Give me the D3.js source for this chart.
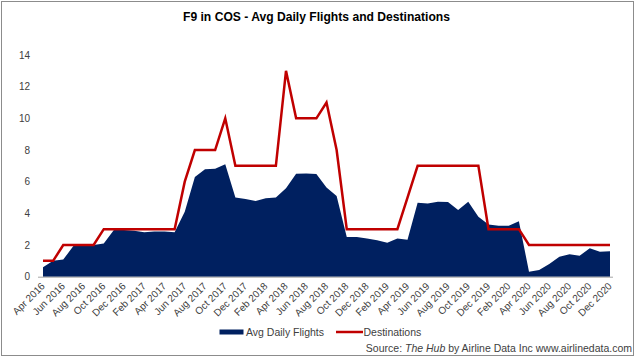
<!DOCTYPE html>
<html><head><meta charset="utf-8">
<script src="https://cdn.jsdelivr.net/npm/d3@7"></script>
<style>
html,body{margin:0;padding:0;background:#fff;}
svg{display:block;font-family:"Liberation Sans",Arial,sans-serif;}
</style></head>
<body><svg id="c" width="639" height="358"></svg>
<script>
const months = ["Apr 2016","May 2016","Jun 2016","Jul 2016","Aug 2016","Sep 2016","Oct 2016","Nov 2016","Dec 2016",
"Jan 2017","Feb 2017","Mar 2017","Apr 2017","May 2017","Jun 2017","Jul 2017","Aug 2017","Sep 2017","Oct 2017","Nov 2017","Dec 2017",
"Jan 2018","Feb 2018","Mar 2018","Apr 2018","May 2018","Jun 2018","Jul 2018","Aug 2018","Sep 2018","Oct 2018","Nov 2018","Dec 2018",
"Jan 2019","Feb 2019","Mar 2019","Apr 2019","May 2019","Jun 2019","Jul 2019","Aug 2019","Sep 2019","Oct 2019","Nov 2019","Dec 2019",
"Jan 2020","Feb 2020","Mar 2020","Apr 2020","May 2020","Jun 2020","Jul 2020","Aug 2020","Sep 2020","Oct 2020","Nov 2020","Dec 2020"];
const avgDailyFlights = [0.6,1.0,1.08,1.94,1.99,2.0,2.1,2.95,2.95,2.9,2.8,2.85,2.85,2.8,
4.1,6.3,6.78,6.82,7.1,5.0,4.9,4.78,4.95,5.0,5.58,6.5,6.52,6.48,5.64,5.1,
2.5,2.5,2.42,2.3,2.15,2.42,2.33,4.67,4.63,4.74,4.72,4.21,4.74,3.79,3.3,3.22,3.22,3.5,
0.32,0.42,0.8,1.26,1.41,1.33,1.79,1.58,1.6];
const destinations = [1,1,2,2,2,2,3,3,3,3,3,3,3,3,6,8,8,8,10,7,7,7,7,7,13,10,10,10,11,8,
3,3,3,3,3,3,5,7,7,7,7,7,7,7,3,3,3,3,2,2,2,2,2,2,2,2,2];
const yTicks = [0,2,4,6,8,10,12,14];
const xTickLabels = months.filter((m,i)=>i%2===0);
const title = "F9 in COS - Avg Daily Flights and Destinations";
const seriesNames = ["Avg Daily Flights","Destinations"];

const svg = d3.select("#c");
svg.append("rect").attr("x",1.5).attr("y",1.5).attr("width",632).attr("height",354)
  .attr("fill","#fff").attr("stroke","#8c8c8c").attr("stroke-width",1);

const x = d3.scalePoint().domain(months).range([43,610]);
const y = d3.scaleLinear().domain([0,14]).range([276.7,55]);

// area
const area = d3.area().x((d,i)=>x(months[i])).y0(y(0)).y1(d=>y(d));
svg.append("path").datum(avgDailyFlights).attr("d",area).attr("fill","#002060");

// line
const line = d3.line().x((d,i)=>x(months[i])).y(d=>y(d));
svg.append("path").datum(destinations).attr("d",line).attr("fill","none")
  .attr("stroke","#C00000").attr("stroke-width",2.5).attr("stroke-linejoin","miter");

// x axis
const xAxis = d3.axisBottom(x).tickValues(xTickLabels).tickSize(0).tickPadding(0);
const gx = svg.append("g").attr("transform",`translate(0,${y(0)})`).call(xAxis);
gx.select(".domain").attr("d",`M${38},0.5H${613}`).attr("stroke","#a6a6a6");
gx.selectAll(".tick text").attr("text-anchor","end").attr("fill","#404040")
  .attr("font-size","10px").attr("font-family","Liberation Sans, Arial, sans-serif")
  .attr("dy",null).attr("y",null)
  .attr("transform","translate(2,10) rotate(-45)");

// y axis
const yAxis = d3.axisLeft(y).tickValues(yTicks).tickSize(0).tickPadding(0);
const gy = svg.append("g").attr("transform","translate(30,0)").call(yAxis);
gy.select(".domain").remove();
gy.selectAll(".tick text").attr("fill","#404040").attr("font-size","10px")
  .attr("font-family","Liberation Sans, Arial, sans-serif");

// title
svg.append("text").attr("x",316.5).attr("y",21).attr("text-anchor","middle")
  .attr("font-size","12.5px").attr("font-weight","bold").attr("fill","#000")
  .attr("textLength",267).attr("lengthAdjust","spacingAndGlyphs").text(title);

// legend
const lg = svg.append("g");
lg.append("rect").attr("x",219.5).attr("y",329.5).attr("width",24).attr("height",5).attr("fill","#002060");
lg.append("text").attr("x",246).attr("y",335.5).attr("font-size","10.5px").attr("fill","#404040").text(seriesNames[0]);
lg.append("line").attr("x1",336).attr("x2",363).attr("y1",332).attr("y2",332).attr("stroke","#C00000").attr("stroke-width",2.5);
lg.append("text").attr("x",363.5).attr("y",335.5).attr("font-size","10.5px").attr("fill","#404040").text(seriesNames[1]);

// source
const src = svg.append("text").attr("x",632).attr("y",352).attr("text-anchor","end")
  .attr("font-size","10.5px").attr("fill","#404040");
src.append("tspan").text("Source: ");
src.append("tspan").attr("font-style","italic").text("The Hub");
src.append("tspan").text(" by Airline Data Inc www.airlinedata.com");
</script></body></html>
